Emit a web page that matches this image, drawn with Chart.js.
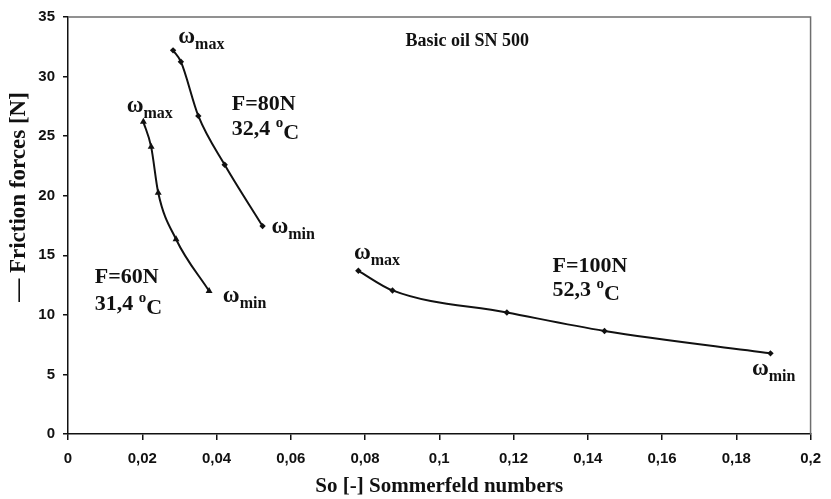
<!DOCTYPE html>
<html>
<head>
<meta charset="utf-8">
<script src="https://cdn.jsdelivr.net/npm/chart.js@4.4.1/dist/chart.umd.min.js"></script>
<style>
  html, body { margin: 0; padding: 0; background: #fff; }
  #wrap { width: 831px; height: 499px; position: relative; }
</style>
</head>
<body>
<div id="wrap"><canvas id="c" width="831" height="499"></canvas></div>
<script>
// ---- data ----
const xTicks = [0, 0.02, 0.04, 0.06, 0.08, 0.1, 0.12, 0.14, 0.16, 0.18, 0.2];
const yTicks = [0, 5, 10, 15, 20, 25, 30, 35];

const so60 = [0.0203, 0.0224, 0.0243, 0.0291, 0.0380];
const f60  = [26.2, 24.1, 20.25, 16.35, 12.0];

const so80 = [0.0283, 0.0304, 0.0351, 0.0422, 0.0524];
const f80  = [32.2, 31.25, 26.7, 22.6, 17.45];

const so100 = [0.0782, 0.0874, 0.1182, 0.1445, 0.1892];
const f100  = [13.7, 12.05, 10.2, 8.65, 6.77];

// omega labels: anchor (x, y) in data units, subscript text
const omegaLabels = [
  { x: 0.0297, y: 32.8, sub: 'max' },
  { x: 0.0158, y: 27.0, sub: 'max' },
  { x: 0.0548, y: 16.9, sub: 'min' },
  { x: 0.0417, y: 11.1, sub: 'min' },
  { x: 0.0770, y: 14.7, sub: 'max' },
  { x: 0.1842, y: 4.95, sub: 'min' }
];
// load / temperature labels
const loadLabels = [
  { x: 0.0441, y: 27.2, load: 'F=80N',  temp: '32,4', y2: 25.1 },
  { x: 0.0072, y: 12.7, load: 'F=60N',  temp: '31,4', y2: 10.4 },
  { x: 0.1305, y: 13.6, load: 'F=100N', temp: '52,3', y2: 11.6 }
];
const titleText = 'Basic oil SN 500';
const titlePos = { x: 0.0909, y: 32.55 };
const xTitle = 'So [-] Sommerfeld numbers';
const yTitle = '— Friction forces [N]';

const SERIF = '"Liberation Serif", "Times New Roman", serif';
const SANS = '"Liberation Sans", Arial, sans-serif';

function pts(xs, ys) { return xs.map((x, i) => ({ x: x, y: ys[i] })); }

const framePlugin = {
  id: 'frame',
  beforeDatasetsDraw(chart) {
    const { ctx, chartArea: a } = chart;
    ctx.save();
    ctx.strokeStyle = '#6e6e6e';
    ctx.lineWidth = 1.5;
    ctx.beginPath();
    ctx.moveTo(a.left, a.top);
    ctx.lineTo(a.right, a.top);
    ctx.lineTo(a.right, a.bottom);
    ctx.stroke();
    ctx.restore();
  }
};

const textPlugin = {
  id: 'texts',
  afterDatasetsDraw(chart) {
    const { ctx } = chart;
    const xs = chart.scales.x, ys = chart.scales.y;
    ctx.save();
    ctx.fillStyle = '#111';
    ctx.textBaseline = 'alphabetic';
    ctx.textAlign = 'left';
    // omega labels
    omegaLabels.forEach(l => {
      const px = xs.getPixelForValue(l.x), py = ys.getPixelForValue(l.y);
      ctx.font = 'bold 23px ' + SERIF;
      ctx.fillText('ω', px, py);
      const w = ctx.measureText('ω').width;
      ctx.font = 'bold 16px ' + SERIF;
      ctx.fillText(l.sub, px + w, py + 6);
    });
    // load labels
    loadLabels.forEach(l => {
      const px = xs.getPixelForValue(l.x);
      ctx.font = 'bold 22px ' + SERIF;
      ctx.fillText(l.load, px, ys.getPixelForValue(l.y));
      const py2 = ys.getPixelForValue(l.y2);
      const t = l.temp + ' ';
      ctx.fillText(t, px, py2);
      let w = ctx.measureText(t).width;
      ctx.font = 'bold 15px ' + SERIF;
      ctx.fillText('o', px + w, py2 - 8);
      w += ctx.measureText('o').width;
      ctx.font = 'bold 22px ' + SERIF;
      ctx.fillText('C', px + w, py2 + 4);
    });
    // title
    ctx.font = 'bold 18px ' + SERIF;
    ctx.fillText(titleText, xs.getPixelForValue(titlePos.x), ys.getPixelForValue(titlePos.y));
    // y axis title (rotated)
    ctx.translate(25, 197);
    ctx.rotate(-Math.PI / 2);
    ctx.textAlign = 'center';
    ctx.font = 'bold 23px ' + SERIF;
    ctx.fillText(yTitle, 0, 0);
    ctx.restore();
  }
};

const lineStyle = {
  showLine: true,
  borderColor: '#111',
  backgroundColor: '#111',
  borderWidth: 2,
  cubicInterpolationMode: 'monotone',
  pointRadius: 3.2,
  pointBorderWidth: 0,
  pointBackgroundColor: '#111'
};

new Chart(document.getElementById('c'), {
  type: 'scatter',
  data: {
    datasets: [
      Object.assign({ label: 'F=60N', data: pts(so60, f60), pointStyle: 'triangle' }, lineStyle, { pointRadius: 4 }),
      Object.assign({ label: 'F=80N', data: pts(so80, f80), pointStyle: 'rectRot' }, lineStyle),
      Object.assign({ label: 'F=100N', data: pts(so100, f100), pointStyle: 'rectRot' }, lineStyle)
    ]
  },
  options: {
    responsive: false,
    animation: false,
    devicePixelRatio: 1,
    layout: { padding: { left: 0, right: 15, top: 17, bottom: 0 } },
    plugins: { legend: { display: false }, tooltip: { enabled: false } },
    scales: {
      x: {
        type: 'linear',
        min: 0, max: 0.2,
        afterBuildTicks(scale) { scale.ticks = xTicks.map(v => ({ value: v })); },
        afterFit(scale) { scale.height = 65; },
        ticks: {
          color: '#111',
          font: { family: SANS, size: 15, weight: 'bold' },
          padding: 10,
          maxRotation: 0,
          callback: v => String(Number(v.toFixed(2))).replace('.', ',')
        },
        grid: { drawOnChartArea: false, drawTicks: true, tickLength: 6, color: '#111', lineWidth: 1.5 },
        border: { color: '#111', width: 1.5 },
        title: {
          display: true,
          text: xTitle,
          color: '#111',
          font: { family: SERIF, size: 21, weight: 'bold' },
          padding: { top: 0, bottom: 0 }
        }
      },
      y: {
        type: 'linear',
        min: 0, max: 35,
        afterBuildTicks(scale) { scale.ticks = yTicks.map(v => ({ value: v })); },
        afterFit(scale) { scale.width = 68; },
        ticks: {
          color: '#111',
          font: { family: SANS, size: 15, weight: 'bold' },
          padding: 8
        },
        grid: { drawOnChartArea: false, drawTicks: true, tickLength: 5, color: '#111', lineWidth: 1.5 },
        border: { color: '#111', width: 1.5 },
        title: { display: false }
      }
    }
  },
  plugins: [framePlugin, textPlugin]
});
</script>
</body>
</html>
